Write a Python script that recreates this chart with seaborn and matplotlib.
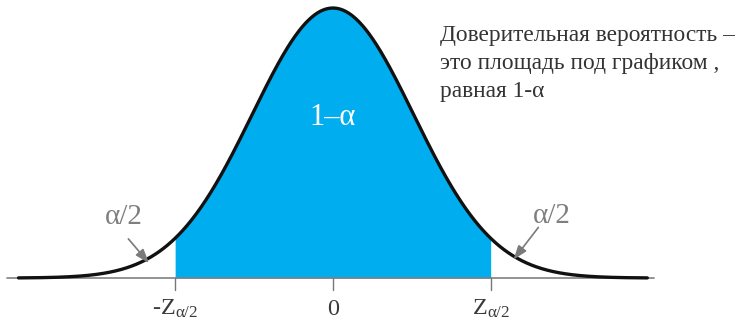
import numpy as np
import pandas as pd
import matplotlib
matplotlib.use("Agg")
import matplotlib.pyplot as plt
import seaborn as sns

# Standard normal density with a two-sided critical value
mean = 0.0
sd = 1.0
z_crit = 1.96
x_span = [-3.9, 3.9]
tick_positions = [-z_crit, 0.0, z_crit]
tick_labels = [r"-$\mathrm{Z}_{\mathrm{α/2}}$", "0", r"$\mathrm{Z}_{\mathrm{α/2}}$"]
center_label = "1–α"
tail_label = "α/2"
note_lines = ["Доверительная вероятность –", "это площадь под графиком ,", "равная 1-α"]

sns.set_theme(style="white")
plt.rcParams["font.family"] = ["Liberation Serif", "DejaVu Serif"]
plt.rcParams["mathtext.fontset"] = "custom"
plt.rcParams["mathtext.rm"] = "Liberation Serif"
plt.rcParams["mathtext.it"] = "Liberation Serif:italic"

x = np.linspace(x_span[0], x_span[1], 800)
pdf = np.exp(-0.5 * ((x - mean) / sd) ** 2) / (sd * np.sqrt(2 * np.pi))
curve = pd.DataFrame({"x": x, "density": pdf})

fig = plt.figure(figsize=(7.44, 3.25), dpi=100)
ax = fig.add_axes([0, 0, 1, 1])
ax.set_xlim(-4.13, 5.10)
ax.set_ylim(-0.0694, 0.4108)
ax.axis("off")

# shaded central region
inside = (curve["x"] >= -z_crit) & (curve["x"] <= z_crit)
ax.fill_between(curve["x"][inside], 0, curve["density"][inside],
                color="#00aeef", linewidth=0, zorder=1)

# baseline and ticks
ax.plot([-4.04, 3.98], [0, 0], color="#808080", linewidth=1.2, zorder=2)
for pos in tick_positions:
    ax.plot([pos, pos], [0, -0.017], color="#777777", linewidth=1.0, zorder=2)

sns.lineplot(data=curve, x="x", y="density", ax=ax, color="#111111",
             linewidth=2.4, zorder=3, legend=False)

for pos, lab in zip(tick_positions, tick_labels):
    ax.text(pos, -0.0547, lab, ha="center", va="baseline", fontsize=17.5,
            color="#3a3a3a")

ax.text(mean, 0.237, center_label, ha="center", va="center", fontsize=22,
        color="white")

# tail annotations
arrow_kw = dict(arrowstyle="-|>,head_length=0.7,head_width=0.25",
                color="#7a7a7a", linewidth=1.2)
ax.annotate("", xy=(-2.26, 0.019), xytext=(-2.56, 0.061), arrowprops=arrow_kw)
ax.annotate("", xy=(2.22, 0.024), xytext=(2.57, 0.078), arrowprops=arrow_kw)
ax.text(-2.6, 0.09, tail_label, ha="center", va="center", fontsize=21, color="#7f7f7f")
ax.text(2.72, 0.092, tail_label, ha="center", va="center", fontsize=21, color="#7f7f7f")

# explanatory note
ax.text(1.33, 0.374, "\n".join(note_lines), ha="left", va="top", fontsize=16.8,
        color="#333333", linespacing=1.45)

fig.savefig("out.png", dpi=100)
